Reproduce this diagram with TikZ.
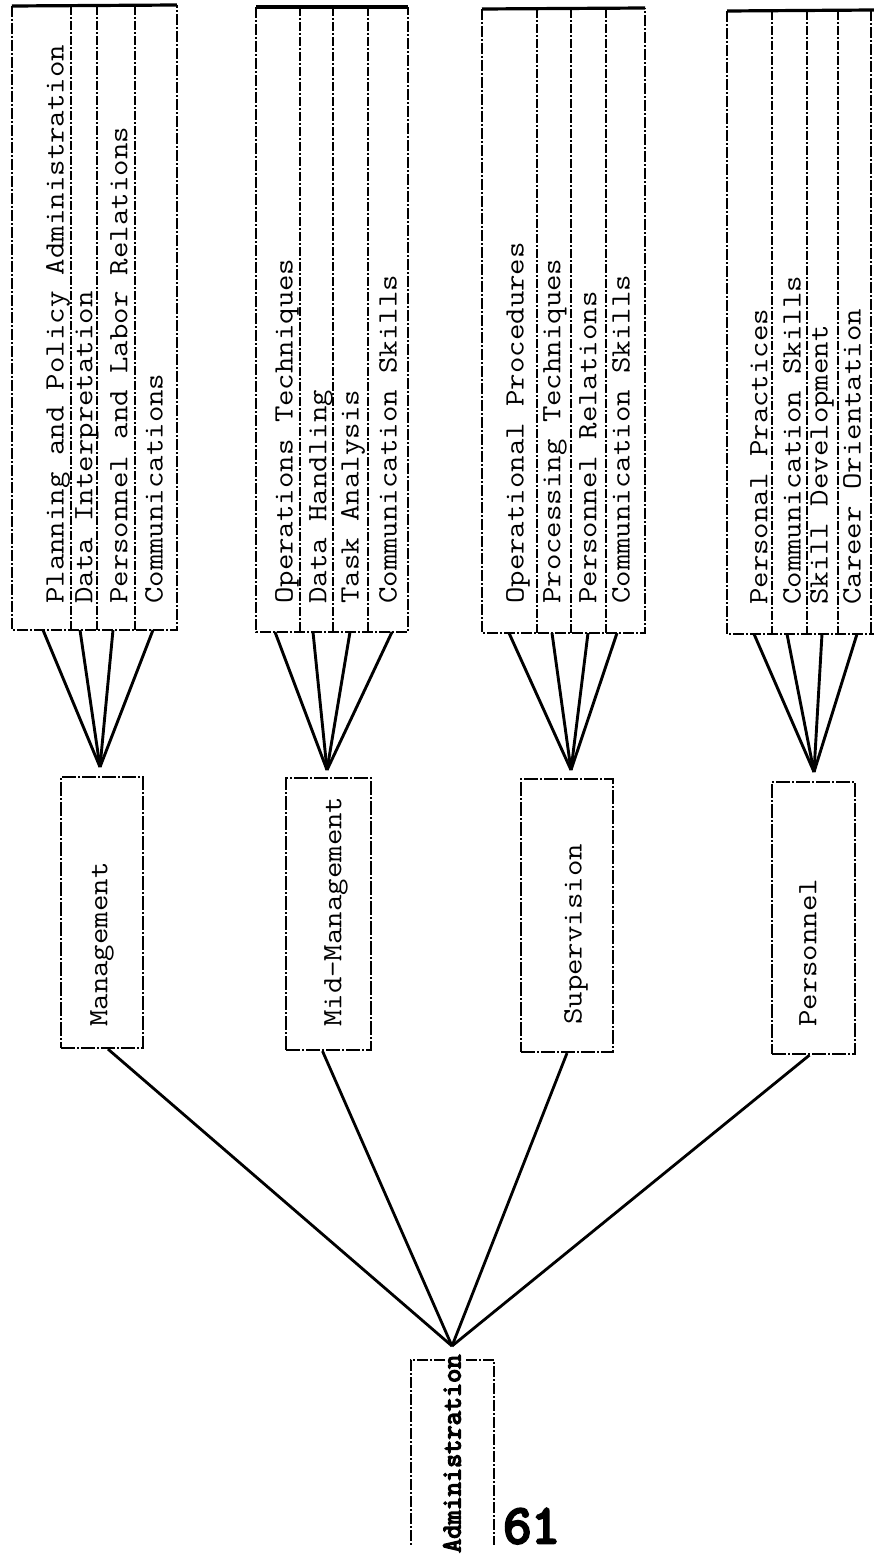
\documentclass[tikz,border=0pt]{standalone}
\usepackage{fontspec}
\newfontfamily\typew[FakeStretch=1.14]{Latin Modern Mono}
\newfontfamily\typeb[FakeBold=5]{Latin Modern Mono}
\begin{document}
\begin{tikzpicture}[x=1pt,y=-1pt,
  lbl/.style={rotate=90,anchor=west,inner sep=0pt,font=\typew\fontsize{28}{30}\selectfont},
  topedge/.style={line width=3.2pt},
  boxedge/.style={line width=2.2pt,dash pattern=on 11pt off 2pt on 2pt off 2pt},
  divider/.style={line width=1.8pt,dash pattern=on 9pt off 2pt on 2pt off 2pt},
  fan/.style={line width=2.9pt},
  spoke/.style={line width=2.8pt},
  midbox/.style={draw,line width=2.2pt,dash pattern=on 14pt off 2pt on 2pt off 2pt,inner sep=0pt,minimum width=#1},
]
\useasboundingbox[fill=white] (0,0) rectangle (874,1565);

% ---------- top group 1 ----------
\draw[topedge] (12,6) -- (177,5);
\draw[boxedge] (12,6) -- (12,630) -- (177,630) -- (177,5);
\foreach \x in {71,97,135} \draw[divider] (\x,6) -- (\x,630);
\node[lbl] (g1a) at (58,604) {Planning and Policy Administration};
\node[lbl] (g1b) at (87,604) {Data Interpretation};
\node[lbl] (g1c) at (119,604) {Personnel and Labor Relations};
\node[lbl] (g1d) at (154,604) {Communications};
% ---------- top group 2 ----------
\draw[topedge] (256,7) -- (408,7);
\draw[boxedge] (256,7) -- (256,632) -- (408,632) -- (408,7);
\foreach \x in {300,333,368} \draw[divider] (\x,7) -- (\x,632);
\node[lbl] (g2a) at (287,604) {Operations Techniques};
\node[lbl] (g2b) at (321,604) {Data Handling};
\node[lbl] (g2c) at (353,604) {Task Analysis};
\node[lbl] (g2d) at (388,604) {Communication Skills};
% ---------- top group 3 ----------
\draw[topedge] (482,9) -- (645,8);
\draw[boxedge] (482,9) -- (482,633) -- (645,633) -- (645,8);
\foreach \x in {537,571,606} \draw[divider] (\x,9) -- (\x,633);
\node[lbl] (g3a) at (518,604) {Operational Procedures};
\node[lbl] (g3b) at (555,604) {Processing Techniques};
\node[lbl] (g3c) at (588,604) {Personnel Relations};
\node[lbl] (g3d) at (621,604) {Communication Skills};
% ---------- top group 4 ----------
\draw[topedge] (727,11) -- (874,10);
\draw[boxedge] (727,11) -- (727,634) -- (874,634);
\draw[boxedge] (871,10) -- (871,634);
\foreach \x in {772,807,838} \draw[divider] (\x,11) -- (\x,634);
\node[lbl] (g4a) at (759,605) {Personal Practices};
\node[lbl] (g4b) at (792,605) {Communication Skills};
\node[lbl] (g4c) at (822,605) {Skill Development};
\node[lbl] (g4d) at (852,605) {Career Orientation};

% ---------- fan start points and convergence points ----------
\foreach \n/\x in {1/43,2/80,3/113,4/153} \coordinate (f1\n) at (\x,630);
\foreach \n/\x in {1/275,2/313,3/350,4/392} \coordinate (f2\n) at (\x,632);
\foreach \n/\x in {1/509,2/552,3/588,4/617} \coordinate (f3\n) at (\x,633);
\foreach \n/\x in {1/754,2/787,3/822,4/857} \coordinate (f4\n) at (\x,634);
\coordinate (c1) at (100,767);
\coordinate (c2) at (327,770);
\coordinate (c3) at (571,770);
\coordinate (c4) at (814,772);

% ---------- middle boxes ----------
\node[midbox=82pt,minimum height=271pt] (mgmt) at (102,912.5) {};
\node[midbox=85pt,minimum height=272pt] (mid)  at (328.5,914) {};
\node[midbox=92pt,minimum height=273pt] (sup)  at (567,915.5) {};
\node[midbox=83pt,minimum height=272pt] (pers) at (813.5,918) {};
\node[lbl] (mgmtT) at (102,1027) {Management};
\node[lbl] (midT)  at (336,1027) {Mid-Management};
\node[lbl] (supT)  at (576,1025) {Supervision};
\node[lbl] (persT) at (808,1027) {Personnel};

% ---------- fans ----------
\foreach \g in {1,2,3,4}
  \foreach \n in {1,2,3,4}
    \draw[fan] (f\g\n) -- (c\g);

% ---------- administration ----------
\coordinate (apex) at (452,1346);
\draw[boxedge] (445,1360) -- (411,1360) -- (411,1545);
\draw[boxedge] (466,1360) -- (494,1360) -- (494,1545);
\node[rotate=90,anchor=west,inner sep=0pt,font=\typeb\fontsize{27.5}{29}\selectfont] (adm) at (452,1553) {Administration};
\draw[spoke] ([xshift=6pt]mgmt.south) -- (apex);
\draw[spoke] ([xshift=-6pt]mid.south) -- (apex);
\draw[spoke] (sup.south) -- (apex);
\draw[spoke] ([xshift=-4pt]pers.south) -- (apex);

\node[anchor=base west,inner sep=0pt,font=\typeb\fontsize{55}{57}\selectfont] (pg) at (503,1543) {61};
\end{tikzpicture}
\end{document}
